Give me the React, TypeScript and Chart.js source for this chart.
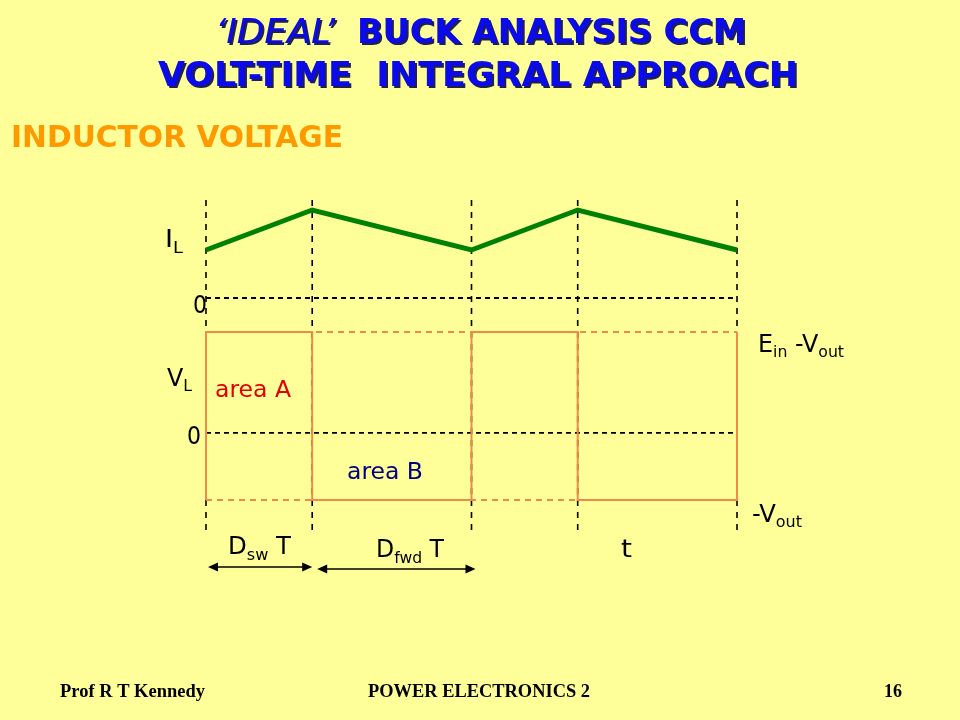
import { useEffect, useRef } from "react";
import { Chart, registerables } from "chart.js";

Chart.register(...registerables);

// ---- data ----
const guideTimes = [0, 0.4, 1, 1.4, 2]; // switching instants (units of T)
const ilTimes = [0, 0.4, 1, 1.4, 2];
const ilValues = [1.2, 2.2, 1.2, 2.2, 1.2]; // inductor current
const vlEdges = [0, 0.4, 1, 1.4, 2];
const vlLevels = [1.5, -1, 1.5, -1]; // Ein - Vout , -Vout
const vHigh = 1.5; // Ein - Vout
const vLow = -1; // -Vout
const dswSpan = [0, 0.4];
const dfwdSpan = [0.4, 1];

const SANS = '"DejaVu Sans Condensed", "DejaVu Sans", sans-serif';
const SERIF = '"Liberation Serif", "Times New Roman", serif';
const ORANGE = "#F08A4B";
const GREEN = "#008000";

type Run = { t: string; sub?: boolean };

function drawRich(
  ctx: CanvasRenderingContext2D,
  runs: Run[],
  x: number,
  y: number,
  size: number,
  color: string,
  width?: number,
  weight = "normal"
) {
  const subSize = size * 0.66;
  let total = 0;
  const ws: number[] = [];
  for (const r of runs) {
    ctx.font = `${weight} ${r.sub ? subSize : size}px ${SANS}`;
    const w = ctx.measureText(r.t).width;
    ws.push(w);
    total += w;
  }
  const s = width ? width / total : 1;
  ctx.save();
  ctx.translate(x, y);
  ctx.scale(s, 1);
  ctx.fillStyle = color;
  ctx.textBaseline = "alphabetic";
  ctx.textAlign = "left";
  let cx = 0;
  runs.forEach((r, i) => {
    ctx.font = `${weight} ${r.sub ? subSize : size}px ${SANS}`;
    ctx.fillText(r.t, cx, r.sub ? size * 0.22 : 0);
    cx += ws[i];
  });
  ctx.restore();
}

function drawFit(
  ctx: CanvasRenderingContext2D,
  text: string,
  x: number,
  y: number,
  width: number,
  font: string,
  color: string,
  shadow?: string
) {
  ctx.save();
  ctx.font = font;
  ctx.textBaseline = "alphabetic";
  ctx.textAlign = "left";
  const m = ctx.measureText(text).width;
  const s = width / m;
  if (shadow) {
    ctx.save();
    ctx.translate(x + 2, y + 2);
    ctx.scale(s, 1);
    ctx.fillStyle = shadow;
    ctx.fillText(text, 0, 0);
    ctx.restore();
  }
  ctx.translate(x, y);
  ctx.scale(s, 1);
  ctx.fillStyle = color;
  ctx.fillText(text, 0, 0);
  ctx.restore();
}

function arrow(ctx: CanvasRenderingContext2D, x1: number, x2: number, y: number) {
  ctx.save();
  ctx.strokeStyle = "#000";
  ctx.fillStyle = "#000";
  ctx.lineWidth = 1.5;
  ctx.beginPath();
  ctx.moveTo(x1 + 4, y);
  ctx.lineTo(x2 - 4, y);
  ctx.stroke();
  const head = (tip: number, dir: number) => {
    ctx.beginPath();
    ctx.moveTo(tip, y);
    ctx.lineTo(tip - dir * 10, y - 4.5);
    ctx.lineTo(tip - dir * 10, y + 4.5);
    ctx.closePath();
    ctx.fill();
  };
  head(x1, -1);
  head(x2, 1);
  ctx.restore();
}

const slidePlugin = {
  id: "slide",
  beforeDatasetsDraw(chart: any) {
    const { ctx, chartArea, scales } = chart;
    const xs = scales.x;
    ctx.save();
    ctx.strokeStyle = "#000";
    ctx.lineWidth = 1.6;
    ctx.setLineDash([6, 6]);
    for (const t of guideTimes) {
      const px = xs.getPixelForValue(t);
      ctx.beginPath();
      ctx.moveTo(px, chartArea.top);
      ctx.lineTo(px, chartArea.bottom);
      ctx.stroke();
    }
    ctx.restore();
  },
  afterDraw(chart: any) {
    const { ctx, scales } = chart;
    const xs = scales.x;
    // titles
    ctx.save();
    drawFit(ctx, "\u2018IDEAL\u2019", 215, 43, 120, `italic 33px ${SANS}`, "#0A0AEB", "#20204A");
    drawFit(ctx, "BUCK ANALYSIS CCM", 357, 43, 389, `bold 33px ${SANS}`, "#0A0AEB", "#20204A");
    drawFit(ctx, "VOLT-TIME  INTEGRAL APPROACH", 158, 86, 640, `bold 33px ${SANS}`, "#0A0AEB", "#20204A");
    drawFit(ctx, "INDUCTOR VOLTAGE", 11, 147, 332, `bold 30px ${SANS}`, "#FF9900");
    // footer
    drawFit(ctx, "Prof R T Kennedy", 60, 697, 145, `bold 19px ${SERIF}`, "#000");
    drawFit(ctx, "POWER ELECTRONICS 2", 368, 697, 222, `bold 19px ${SERIF}`, "#000");
    drawFit(ctx, "16", 884, 697, 18, `bold 19px ${SERIF}`, "#000");
    ctx.restore();

    // labels
    drawRich(ctx, [{ t: "I" }, { t: "L", sub: true }], 165, 247, 25, "#000", 18);
    drawRich(ctx, [{ t: "0" }], 193, 313, 25, "#000", 14);
    drawRich(ctx, [{ t: "V" }, { t: "L", sub: true }], 167, 386, 24, "#000", 25);
    drawRich(ctx, [{ t: "0" }], 187, 444, 25, "#000", 14);
    drawRich(ctx, [{ t: "area A" }], 215, 397, 23, "#E00000", 76);
    drawRich(ctx, [{ t: "area B" }], 347, 479, 23, "#000080", 76);
    drawRich(
      ctx,
      [{ t: "E" }, { t: "in", sub: true }, { t: " -V" }, { t: "out", sub: true }],
      758,
      352,
      24,
      "#000",
      86
    );
    drawRich(ctx, [{ t: "-V" }, { t: "out", sub: true }], 752, 522, 24, "#000", 50);
    drawRich(ctx, [{ t: "D" }, { t: "sw", sub: true }, { t: " T" }], 228, 554, 25, "#000", 63);
    drawRich(ctx, [{ t: "D" }, { t: "fwd", sub: true }, { t: " T" }], 376, 557, 25, "#000", 68);
    drawRich(ctx, [{ t: "t" }], 621, 557, 25, "#000", 11);

    // duration arrows
    arrow(ctx, xs.getPixelForValue(dswSpan[0]) + 2, xs.getPixelForValue(dswSpan[1]), 567);
    arrow(ctx, xs.getPixelForValue(dfwdSpan[0]) + 5, xs.getPixelForValue(dfwdSpan[1]) + 4, 569);
  },
};

function buildVL() {
  const pts: { x: number; y: number }[] = [];
  const n = vlLevels.length;
  for (let i = 0; i < n; i++) {
    const prev = vlLevels[(i + n - 1) % n];
    pts.push({ x: vlEdges[i], y: prev });
    pts.push({ x: vlEdges[i], y: vlLevels[i] });
  }
  pts.push({ x: vlEdges[n], y: vlLevels[n - 1] });
  pts.push({ x: vlEdges[n], y: vlLevels[0] });
  return pts;
}

export default function App() {
  const ref = useRef<HTMLCanvasElement>(null);
  useEffect(() => {
    if (!ref.current) return;
    const t0 = guideTimes[0];
    const t1 = guideTimes[guideTimes.length - 1];
    const common = { pointRadius: 0, showLine: true, clip: false as any, fill: false };
    const chart = new Chart(ref.current, {
      type: "scatter",
      data: {
        datasets: [
          {
            ...common,
            data: ilTimes.map((x, i) => ({ x, y: ilValues[i] })),
            yAxisID: "yI",
            borderColor: GREEN,
            borderWidth: 5,
            order: 0,
          },
          {
            ...common,
            data: buildVL(),
            yAxisID: "yV",
            borderColor: ORANGE,
            borderWidth: 2,
            order: 1,
          },
          {
            ...common,
            data: [
              { x: t0, y: vHigh },
              { x: t1, y: vHigh },
            ],
            yAxisID: "yV",
            borderColor: ORANGE,
            borderWidth: 2,
            borderDash: [6, 5],
            order: 5,
          },
          {
            ...common,
            data: [
              { x: t0, y: vLow },
              { x: t1, y: vLow },
            ],
            yAxisID: "yV",
            borderColor: ORANGE,
            borderWidth: 2,
            borderDash: [6, 5],
            order: 5,
          },
          {
            ...common,
            data: [
              { x: t0, y: 0 },
              { x: t1, y: 0 },
            ],
            yAxisID: "yI",
            borderColor: "#000",
            borderWidth: 1.8,
            borderDash: [5, 4],
            order: 6,
          },
          {
            ...common,
            data: [
              { x: t0, y: 0 },
              { x: t1, y: 0 },
            ],
            yAxisID: "yV",
            borderColor: "#000",
            borderWidth: 1.8,
            borderDash: [5, 4],
            order: 6,
          },
        ],
      },
      options: {
        responsive: false,
        animation: false,
        devicePixelRatio: 1,
        layout: { padding: { left: 206, right: 223, top: 200, bottom: 188 } },
        plugins: { legend: { display: false }, tooltip: { enabled: false } },
        scales: {
          x: { type: "linear", min: 0, max: 2, display: false },
          yV: { type: "linear", min: -1.476, max: 3.464, display: false },
          yI: { type: "linear", min: -5.85, max: 2.45, display: false },
        },
      },
      plugins: [slidePlugin],
    });
    return () => chart.destroy();
  }, []);
  return (
    <div
      style={{
        position: "fixed",
        left: 0,
        top: 0,
        width: 960,
        height: 720,
        background: "#FFFF99",
      }}
    >
      <canvas ref={ref} width={960} height={720} style={{ display: "block", width: 960, height: 720 }} />
    </div>
  );
}
